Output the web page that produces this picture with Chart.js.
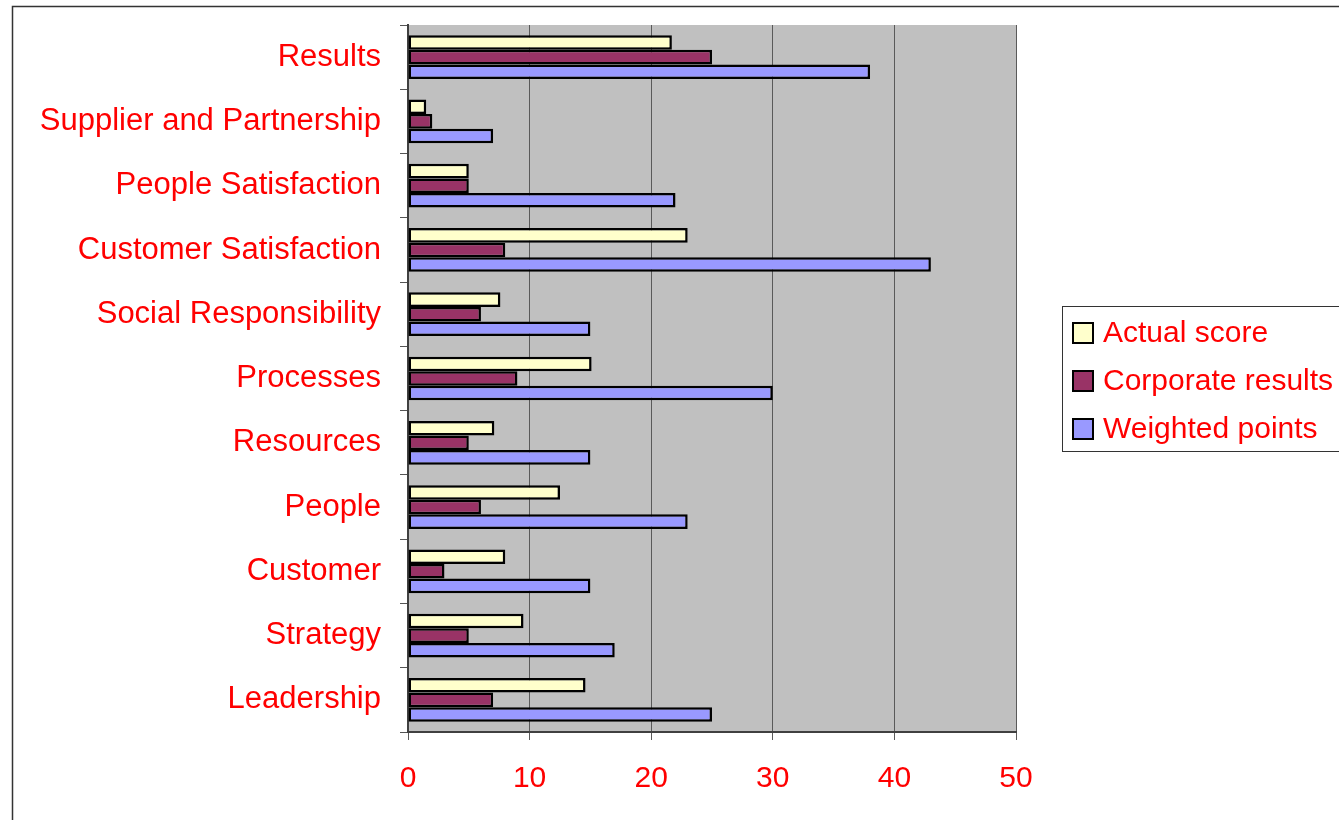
<!DOCTYPE html>
<html>
<head>
<meta charset="utf-8">
<title>Score by criterion</title>
<script src="https://cdn.jsdelivr.net/npm/chart.js@4/dist/chart.umd.min.js"></script>
<style>
    body { margin: 0; background: #fff; }
    canvas { display: block; }
</style>
</head>
<body>
<canvas id="scoreChart" width="1339" height="820"></canvas>
<script>
// criteria, top to bottom
const categories = [
    "Results", "Supplier and Partnership", "People Satisfaction", "Customer Satisfaction",
    "Social Responsibility", "Processes", "Resources", "People", "Customer", "Strategy", "Leadership"
];
const actualScore      = [21.7, 1.5, 5, 23, 7.6, 15.1, 7.1, 12.5, 8, 9.5, 14.6];
const corporateResults = [25, 2, 5, 8, 6, 9, 5, 6, 3, 5, 7];
const weightedPoints   = [38, 7, 22, 43, 15, 30, 15, 23, 15, 17, 25];
const seriesNames = ["Actual score", "Corporate results", "Weighted points"];
const seriesColors = ["#FFFFCC", "#993366", "#9999FF"];

const FONT = "'Liberation Sans', Arial, sans-serif";

// grey plot area + outer frame + boxed legend
const framePlugin = {
    id: "frame",
    beforeDraw(chart) {
        const { ctx, chartArea: a } = chart;
        ctx.save();
        ctx.fillStyle = "#fff";
        ctx.fillRect(0, 0, chart.width, chart.height);
        ctx.strokeStyle = "#333";
        ctx.lineWidth = 1.5;
        ctx.strokeRect(12.5, 6.5, chart.width + 20, chart.height + 20);
        ctx.fillStyle = "#C0C0C0";
        ctx.fillRect(a.left, a.top, a.right - a.left, a.bottom - a.top);
        ctx.restore();
    },
    afterDraw(chart) {
        const { ctx, chartArea: a } = chart;
        const x = a.right + 46, y = 306;
        ctx.save();
        ctx.strokeStyle = "#333";
        ctx.lineWidth = 1;
        ctx.strokeRect(x + 0.5, y + 0.5, 400, 145);
        ctx.font = "30px " + FONT;
        ctx.textBaseline = "middle";
        chart.data.datasets.forEach((ds, i) => {
            const cy = y + 27 + i * 48;
            ctx.fillStyle = ds.backgroundColor;
            ctx.fillRect(x + 11, cy - 10, 20, 20);
            ctx.strokeStyle = "#000";
            ctx.lineWidth = 2;
            ctx.strokeRect(x + 11, cy - 10, 20, 20);
            ctx.fillStyle = "#FF0000";
            ctx.fillText(ds.label, x + 41, cy + 1);
        });
        ctx.restore();
    }
};

const seriesData = [actualScore, corporateResults, weightedPoints];

new Chart(document.getElementById("scoreChart"), {
    type: "bar",
    data: {
        labels: categories,
        datasets: seriesData.map((d, i) => ({
            label: seriesNames[i],
            data: d,
            backgroundColor: seriesColors[i],
            borderColor: "#000",
            borderWidth: 2.5,
            borderSkipped: false,
            categoryPercentage: 0.68,
            barPercentage: 1.0
        }))
    },
    options: {
        indexAxis: "y",
        responsive: false,
        animation: false,
        devicePixelRatio: 1,
        layout: { padding: { top: 25, right: 323, bottom: 0, left: 0 } },
        plugins: {
            legend: { display: false },
            tooltip: { enabled: false }
        },
        scales: {
            y: {
                grid: { drawOnChartArea: false, tickLength: 8, color: "#555", offset: true },
                border: { color: "#404040", width: 2 },
                ticks: { color: "#FF0000", font: { size: 31, family: FONT }, padding: 19 },
                afterFit: s => {
                    s.width = 408;
                    s.paddingTop = 0;
                    s.paddingBottom = 0;
                }
            },
            x: {
                min: 0,
                max: 50,
                grid: { color: "#5A5A5A", tickLength: 8, lineWidth: 1 },
                border: { color: "#404040", width: 2 },
                ticks: { stepSize: 10, color: "#FF0000", font: { size: 30, family: FONT }, padding: 21 },
                afterFit: s => { s.height = 88; }
            }
        }
    },
    plugins: [framePlugin]
});
</script>
</body>
</html>
